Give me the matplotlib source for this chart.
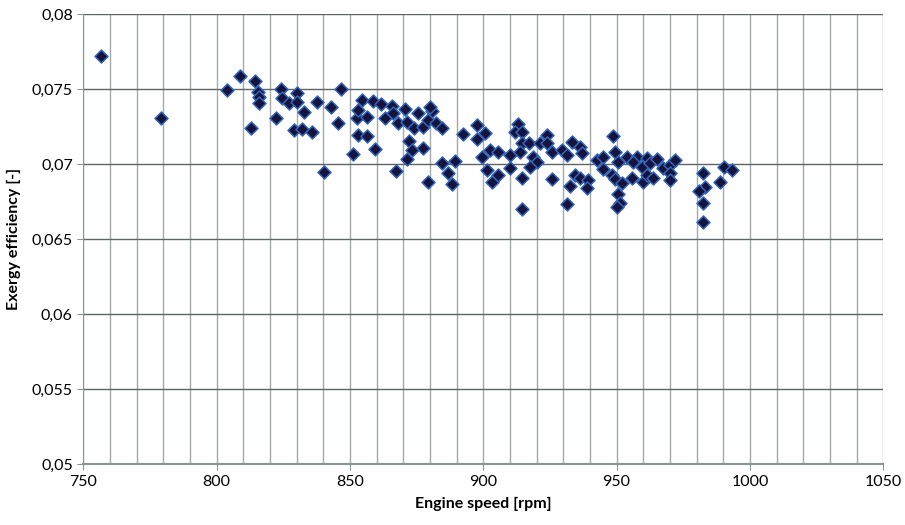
import matplotlib
matplotlib.use("Agg")
import matplotlib.pyplot as plt
from matplotlib.ticker import MultipleLocator, FuncFormatter

# engine speed [rpm] and exergy efficiency [-]
speed = [756.6, 779.1, 803.8, 808.8, 814.4, 815.6, 815.9, 815.9, 812.8, 822.3,
         824.1, 824.6, 827.3, 830.0, 830.0, 832.9, 829.1, 832.1, 835.8, 837.8,
         842.8, 846.6, 845.6, 840.3, 851.3, 852.5, 853.0, 853.0, 854.4, 858.8,
         861.5, 856.4, 856.3, 859.4, 863.1, 865.9, 866.3, 868.1, 870.6, 871.3,
         874.0, 875.6, 877.5, 879.4, 880.7, 880.0, 882.2, 884.6, 872.1, 873.2,
         877.5, 871.3, 867.3, 884.4, 889.4, 886.9, 888.2, 879.4, 892.5, 897.8,
         897.5, 899.4, 900.6, 901.3, 902.5, 905.6, 903.2, 905.6, 910.0, 910.0,
         913.1, 911.9, 914.4, 914.4, 913.8, 917.3, 918.8, 920.0, 917.5, 914.4,
         914.4, 921.3, 923.8, 923.8, 925.6, 925.6, 929.4, 931.3, 933.1, 936.3,
         936.9, 934.4, 936.3, 939.4, 938.8, 932.5, 931.3, 942.5, 945.0, 944.8,
         948.5, 949.4, 950.6, 953.8, 948.2, 949.4, 951.9, 950.6, 951.3, 950.0,
         955.8, 957.5, 956.3, 959.4, 961.3, 962.5, 965.3, 960.0, 961.3, 963.8,
         967.5, 970.0, 971.9, 970.0, 970.0, 982.5, 983.1, 981.0, 982.5, 982.5,
         990.3, 993.2, 988.8]
efficiency = [0.07722, 0.07309, 0.07495, 0.07589, 0.07557, 0.07484, 0.07447, 0.07411, 0.07244, 0.07307,
              0.07500, 0.07444, 0.07411, 0.07473, 0.07413, 0.07351, 0.07229, 0.07233, 0.07215, 0.07417,
              0.07384, 0.07500, 0.07273, 0.06951, 0.07067, 0.07307, 0.07362, 0.07195, 0.07429, 0.07424,
              0.07402, 0.07317, 0.07189, 0.07102, 0.07307, 0.07389, 0.07344, 0.07277, 0.07367, 0.07284,
              0.07240, 0.07340, 0.07251, 0.07295, 0.07357, 0.07384, 0.07273, 0.07244, 0.07155, 0.07095,
              0.07107, 0.07035, 0.06957, 0.07007, 0.07024, 0.06940, 0.06869, 0.06884, 0.07202, 0.07262,
              0.07167, 0.07051, 0.07207, 0.06962, 0.07095, 0.07084, 0.06884, 0.06929, 0.07062, 0.06973,
              0.07269, 0.07217, 0.07217, 0.07144, 0.07084, 0.07144, 0.07051, 0.07017, 0.06984, 0.06907,
              0.06700, 0.07140, 0.07195, 0.07140, 0.07084, 0.06902, 0.07095, 0.07062, 0.07151, 0.07117,
              0.07073, 0.06929, 0.06907, 0.06895, 0.06840, 0.06855, 0.06735, 0.07029, 0.07051, 0.06967,
              0.07191, 0.07084, 0.07017, 0.07051, 0.06929, 0.06902, 0.06873, 0.06800, 0.06740, 0.06713,
              0.06907, 0.07051, 0.07017, 0.06984, 0.07040, 0.07007, 0.07033, 0.06884, 0.06929, 0.06907,
              0.06973, 0.06995, 0.07029, 0.06940, 0.06895, 0.06940, 0.06851, 0.06822, 0.06740, 0.06617,
              0.06980, 0.06962, 0.06884]

plt.rcParams['font.family'] = ['Lato', 'DejaVu Sans']

fig = plt.figure(figsize=(9.05, 5.25), dpi=100)
ax = fig.add_axes([0.092, 0.1156, 0.884, 0.857])

ax.scatter(speed, efficiency, marker='D', s=44, color='#14143f',
           edgecolors='#3565b8', linewidths=1.1, zorder=3)

ax.set_xlim(750, 1050)
ax.set_ylim(0.05, 0.08)
ax.xaxis.set_major_locator(MultipleLocator(50))
ax.xaxis.set_minor_locator(MultipleLocator(10))
ax.yaxis.set_major_locator(MultipleLocator(0.005))
ax.yaxis.set_major_formatter(FuncFormatter(lambda v, p: ('%g' % round(v, 4)).replace('.', ',')))

ax.grid(True, which='both', axis='x', color='#a3abab', linewidth=1.0)
ax.grid(True, which='major', axis='y', color='#5c6666', linewidth=1.0)
ax.set_axisbelow(True)

for side in ['top', 'right']:
    ax.spines[side].set_visible(False)
ax.spines['left'].set_color('#8a9494')
ax.spines['bottom'].set_color('#8a9494')
ax.spines['bottom'].set_linewidth(1.5)

ax.tick_params(axis='both', which='major', labelsize=11.5, length=4, color='#8a9494')
ax.tick_params(axis='x', which='minor', length=0)

ax.set_xlabel('Engine speed [rpm]', fontsize=11.5, fontweight='bold', labelpad=6)
ax.set_ylabel('Exergy efficiency [-]', fontsize=11.5, fontweight='bold', labelpad=8)

fig.savefig('out.png', dpi=100)
